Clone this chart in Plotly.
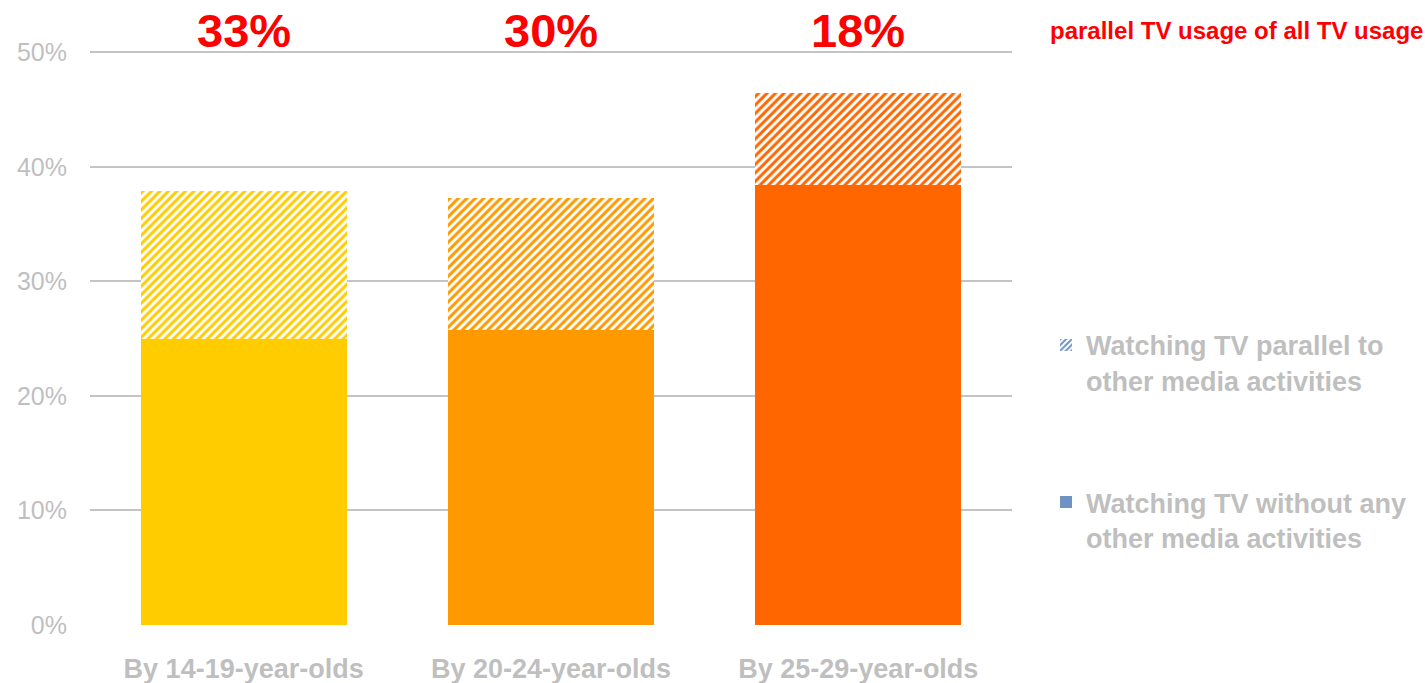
import plotly.graph_objects as go

categories = ["By 14-19-year-olds", "By 20-24-year-olds", "By 25-29-year-olds"]
without_other = [25.0, 25.8, 38.4]
parallel = [12.9, 11.5, 8.1]
share_labels = ["33%", "30%", "18%"]
bar_colors = ["#FFCC00", "#FF9900", "#FF6600"]
legend_names = ["Watching TV parallel to<br>other media activities",
                "Watching TV without any<br>other media activities"]
legend_color = "#6F92C4"
grey = "#BFBFBF"
font_family = "Liberation Sans, Arial, Helvetica, sans-serif"

fig = go.Figure()
fig.add_trace(go.Bar(x=categories, y=without_other, marker=dict(color=bar_colors, line=dict(width=0)),
                     showlegend=False, width=0.67))
for cat, val, col in zip(categories, parallel, bar_colors):
    fig.add_trace(go.Bar(x=[cat], y=[val],
                         marker=dict(color=col, line=dict(width=0),
                                     pattern=dict(shape="/", bgcolor="white", fgcolor=col,
                                                  size=6, solidity=0.5, fillmode="replace")),
                         showlegend=False, width=0.67))
# legend-only traces
fig.add_trace(go.Bar(x=[None], y=[None], name=legend_names[0], legendgroup="a",
                     marker=dict(color=legend_color, line=dict(width=0),
                                 pattern=dict(shape="/", bgcolor="white", fgcolor=legend_color,
                                              size=5, solidity=0.5, fillmode="replace"))))
fig.add_trace(go.Bar(x=[None], y=[None], name=legend_names[1], legendgroup="b",
                     marker=dict(color=legend_color, line=dict(width=0))))

for cat, lab in zip(categories, share_labels):
    fig.add_annotation(x=cat, y=50, yshift=22, yanchor="middle", text=lab, showarrow=False,
                       font=dict(family=font_family, size=47, color="#FF0000", weight="bold"))
fig.add_annotation(x=1.0, xref="paper", xshift=36, xanchor="left", y=50, yshift=22,
                   yanchor="middle", text="parallel TV usage of all TV usage", showarrow=False,
                   font=dict(family=font_family, size=24, color="#FF0000", weight="bold"))

fig.update_layout(
    width=1425, height=683,
    barmode="stack", bargap=0.33,
    plot_bgcolor="white", paper_bgcolor="white",
    margin=dict(l=90, r=413, t=49, b=58),
    font=dict(family=font_family, color=grey),
    legend=dict(x=1.0369, xanchor="left", xref="paper", y=0.528, yanchor="top",
                font=dict(size=27, color=grey, weight="bold", family=font_family),
                tracegroupgap=84, itemsizing="constant", traceorder="grouped", valign="top",
                bgcolor="rgba(0,0,0,0)"),
    xaxis=dict(showgrid=False, showline=False, ticks="", ticklabelstandoff=25, automargin=False,
               tickfont=dict(size=27, color=grey, weight="bold", family=font_family)),
    yaxis=dict(range=[0, 50.3], tickvals=[0, 10, 20, 30, 40, 50],
               ticktext=["0%", "10%", "20%", "30%", "40%", "50%"], automargin=False,
               showgrid=True, gridcolor="#C4C4C4", gridwidth=1.5, zeroline=False, showline=False,
               ticklabelstandoff=22, tickfont=dict(size=25, color=grey, family=font_family)),
)

fig.write_html("out.html")
